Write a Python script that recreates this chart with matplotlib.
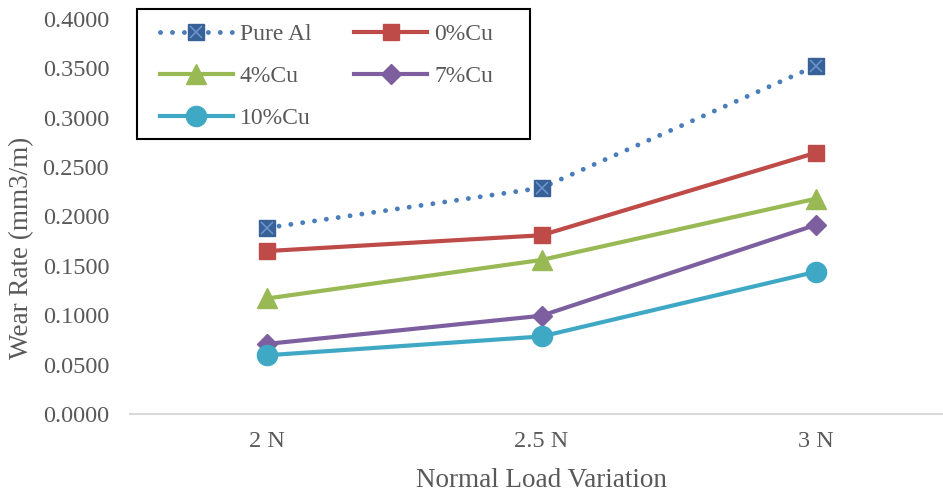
import matplotlib.pyplot as plt
from matplotlib.patches import Rectangle
from matplotlib.legend_handler import HandlerTuple

# data
loads = ["2 N", "2.5 N", "3 N"]
pure_al = [0.1885, 0.2290, 0.3525]
cu0 = [0.1650, 0.1810, 0.2645]
cu4 = [0.1170, 0.1560, 0.2180]
cu7 = [0.0710, 0.0995, 0.1915]
cu10 = [0.0595, 0.0785, 0.1440]
yticks = [0.0, 0.05, 0.1, 0.15, 0.2, 0.25, 0.3, 0.35, 0.4]

plt.rcParams['font.family'] = ['Liberation Serif', 'DejaVu Serif']
grey = '#595959'
W, H = 943, 495

fig = plt.figure(figsize=(9.43, 4.95), dpi=100)
ax = fig.add_axes([130/W, 81/H, 823/W, 395/H])
x = range(len(loads))

l_al, = ax.plot(x, pure_al, color='#4A7EBB', lw=3.5, ls=(0, (0.01, 2.45)),
                dash_capstyle='round', marker='s', ms=11, mfc='#386197',
                mec='#386197', zorder=3)
l_alx, = ax.plot(x, pure_al, ls='none', marker='x', ms=8.5, mew=1.1,
                 color='#6C97D0', zorder=4)
l0, = ax.plot(x, cu0, color='#BE4B48', lw=3, marker='s', ms=11, zorder=3)
l4, = ax.plot(x, cu4, color='#98B954', lw=3, marker='^', ms=14, zorder=3)
l7, = ax.plot(x, cu7, color='#7D5FA0', lw=3, marker='D', ms=10, zorder=3)
l10, = ax.plot(x, cu10, color='#3FA9C5', lw=3, marker='o', ms=14.5, zorder=3)

ax.set_xlim(-0.5, 2.5)
ax.set_ylim(0, 0.4)
ax.set_xticks(list(x))
ax.set_xticklabels(loads)
ax.set_yticks(yticks)
ax.set_yticklabels(['%.4f' % v for v in yticks])
ax.tick_params(length=0, labelsize=17.5, labelcolor=grey)
ax.tick_params(axis='x', pad=12)
ax.tick_params(axis='y', pad=15)
for s in ['top', 'right', 'left']:
    ax.spines[s].set_visible(False)
ax.spines['bottom'].set_color('#D9D9D9')
ax.spines['bottom'].set_linewidth(1.5)

ax.set_xlabel('Normal Load Variation', fontsize=19.5, color=grey, labelpad=12)
fig.text(22/W, 0.5, 'Wear Rate (mm3/m)', rotation=90, fontsize=19.5,
         color=grey, ha='center', va='center')

# legend, filled column-wise so it reads row-wise like the original
handles = [(l_al, l_alx), l4, l10, l0, l7]
labels = ['Pure Al', '4%Cu', '10%Cu', '0%Cu', '7%Cu']
leg = fig.legend(handles, labels,
                 handler_map={tuple: HandlerTuple(ndivide=1)},
                 loc='upper left', bbox_to_anchor=(149/W, 1 - 13/H),
                 borderaxespad=0, ncol=2, fontsize=17, frameon=False,
                 handlelength=3.1, columnspacing=1.8, labelspacing=0.87,
                 handletextpad=0.3, borderpad=0.45)
for t in leg.get_texts():
    t.set_color(grey)
fig.patches.append(Rectangle((137/W, 1 - 139/H), (530 - 137)/W, 130/H,
                             transform=fig.transFigure, fill=False,
                             edgecolor='black', lw=1.5))

fig.savefig('out.png', dpi=100)
